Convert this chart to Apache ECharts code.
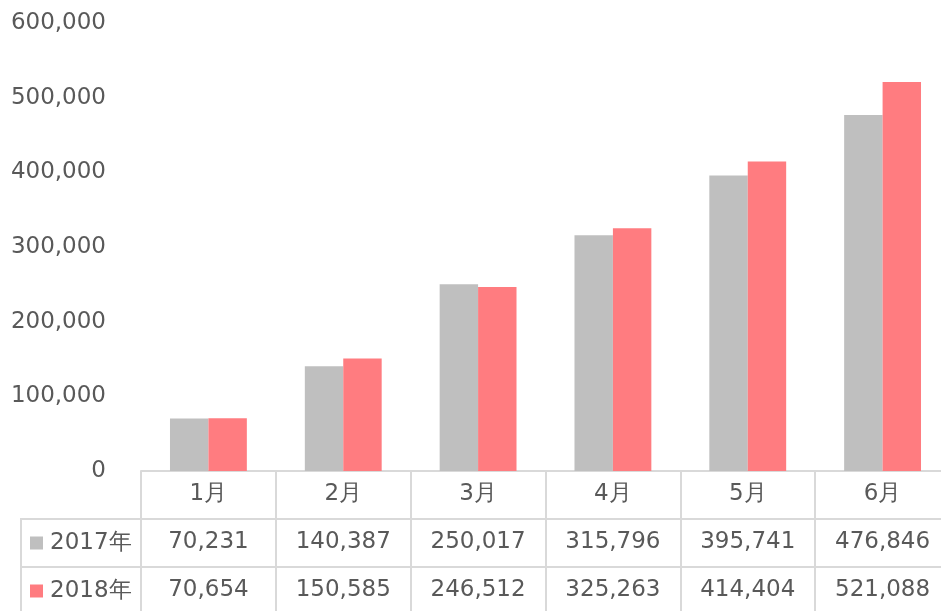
<!DOCTYPE html>
<html>
<head>
<meta charset="utf-8">
<script src="https://cdn.jsdelivr.net/npm/echarts@6/dist/echarts.min.js"></script>
<style>html,body{margin:0;padding:0;background:#fff;}#c{width:941px;height:611px;}</style>
</head>
<body>
<div id="c"></div>
<script>
var categories = ['1月', '2月', '3月', '4月', '5月', '6月'];
var seriesNames = ['2017年', '2018年'];
var v2017 = [70231, 140387, 250017, 315796, 395741, 476846];
var v2018 = [70654, 150585, 246512, 325263, 414404, 521088];
var yMin = 0, yMax = 600000, yInterval = 100000;

var FONT = '"DejaVu Sans", Verdana, sans-serif';
var TXT = '#595959';
var LINE = '#D9D9D9';
var FS = 23;
function fmt(n) { return String(n).replace(/\B(?=(\d{3})+(?!\d))/g, ','); }

function legendFor(name, top) {
  return {
    orient: 'vertical', left: 30, top: top,
    icon: 'rect', itemWidth: 13, itemHeight: 13, itemGap: 0, padding: 0,
    textStyle: { fontFamily: FONT, fontSize: FS, color: TXT, lineHeight: 24, padding: [0, 0, 0, 2] },
    data: [name]
  };
}

var chart = echarts.init(document.getElementById('c'));
chart.setOption({
  animation: false,
  textStyle: { fontFamily: FONT },
  grid: { left: 141, right: -9, top: 23, bottom: 140, containLabel: false, outerBoundsMode: 'none' },
  legend: [legendFor(seriesNames[0], 531), legendFor(seriesNames[1], 579)],
  xAxis: [
    {
      type: 'category', data: categories, position: 'bottom',
      axisLine: { lineStyle: { color: LINE, width: 2 } },
      axisTick: { show: true, length: 141, lineStyle: { color: LINE, width: 2 } },
      axisLabel: { fontSize: FS, color: TXT, margin: 12, fontFamily: FONT }
    },
    {
      type: 'category', data: v2017.map(fmt), position: 'bottom', offset: 48,
      axisLine: { lineStyle: { color: LINE, width: 2 } },
      axisTick: { show: false },
      axisLabel: { fontSize: FS, color: TXT, margin: 12, fontFamily: FONT }
    },
    {
      type: 'category', data: v2018.map(fmt), position: 'bottom', offset: 96,
      axisLine: { lineStyle: { color: LINE, width: 2 } },
      axisTick: { show: false },
      axisLabel: { fontSize: FS, color: TXT, margin: 12, fontFamily: FONT }
    }
  ],
  yAxis: {
    type: 'value', min: yMin, max: yMax, interval: yInterval,
    axisLine: { show: false }, axisTick: { show: false },
    splitLine: { show: false },
    axisLabel: { fontSize: FS, color: TXT, margin: 35, fontFamily: FONT, padding: [5, 0, 0, 0], formatter: function (v) { return fmt(v); } }
  },
  series: [
    { name: seriesNames[0], type: 'bar', xAxisIndex: 0, data: v2017, itemStyle: { color: '#BFBFBF' }, barGap: '0%', barCategoryGap: '43%' },
    { name: seriesNames[1], type: 'bar', xAxisIndex: 0, data: v2018, itemStyle: { color: '#FF7C80' }, barGap: '0%', barCategoryGap: '43%' }
  ],
  graphic: [
    { type: 'line', shape: { x1: 21, y1: 519, x2: 141, y2: 519 }, style: { stroke: LINE, lineWidth: 2 } },
    { type: 'line', shape: { x1: 21, y1: 567, x2: 141, y2: 567 }, style: { stroke: LINE, lineWidth: 2 } },
    { type: 'line', shape: { x1: 21, y1: 518, x2: 21, y2: 611 }, style: { stroke: LINE, lineWidth: 2 } }
  ]
});
</script>
</body>
</html>
